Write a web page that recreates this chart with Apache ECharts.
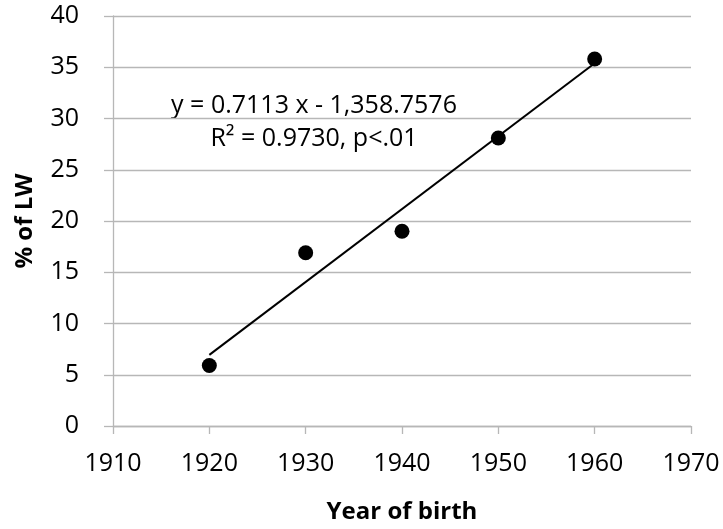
<!DOCTYPE html>
<html>
<head>
<meta charset="utf-8">
<script src="https://cdn.jsdelivr.net/npm/echarts@6/dist/echarts.min.js"></script>
<style>
    html, body {margin: 0; padding: 0; background: #fff;}
    #main {width: 723px; height: 529px;}
</style>
</head>
<body>
<div id="main"></div>
<script>
//散点数据
var years = [1920, 1930, 1940, 1950, 1960];
var lwValues = [5.9, 16.9, 19.0, 28.1, 35.8];
//趋势线两端
var trendYears = [1920, 1960];
var trendValues = [6.94, 35.39];
var eqLines = ['y = 0.7113 x - 1,358.7576', 'R\u00b2 = 0.9730, p<.01'];

var font = '"Open Sans", sans-serif';
var gray = '#b7b7b7';

var myChart = echarts.init(document.getElementById('main'));
myChart.setOption({
    animation: false,
    grid: {left: 113, right: 32, top: 16, bottom: 102},
    xAxis: {
        type: 'value',
        min: 1910,
        max: 1970,
        interval: 10,
        name: 'Year of birth',
        nameLocation: 'middle',
        nameGap: 74,
        nameTextStyle: {fontFamily: font, fontSize: 24, fontWeight: 'bold', color: '#000'},
        axisLine: {lineStyle: {color: gray, width: 1.3}},
        axisTick: {show: true, length: 8, lineStyle: {color: gray, width: 1.3}},
        axisLabel: {
            fontFamily: font, fontSize: 25, color: '#000', margin: 25,
            formatter: function (v) { return String(v); }
        },
        splitLine: {show: false}
    },
    yAxis: {
        type: 'value',
        min: 0,
        max: 40,
        interval: 5,
        name: '% of LW',
        nameLocation: 'middle',
        nameRotate: 90,
        nameGap: 76,
        nameTextStyle: {fontFamily: font, fontSize: 24, fontWeight: 'bold', color: '#000'},
        axisLine: {show: true, lineStyle: {color: gray, width: 1.3}},
        axisTick: {show: true, length: 9, lineStyle: {color: gray, width: 1.3}},
        axisLabel: {fontFamily: font, fontSize: 25, color: '#000', margin: 34},
        splitLine: {lineStyle: {color: gray, width: 1.3}}
    },
    series: [{
        type: 'line',
        data: trendYears.map(function (y, i) { return [y, trendValues[i]]; }),
        showSymbol: false,
        lineStyle: {color: '#000', width: 2},
        z: 2
    }, {
        type: 'scatter',
        data: years.map(function (y, i) { return [y, lwValues[i]]; }),
        symbol: 'circle',
        symbolSize: 15,
        itemStyle: {color: '#000', opacity: 1},
        z: 3
    }],
    graphic: [{
        type: 'text',
        x: 314,
        y: 106,
        style: {text: eqLines[0], fontFamily: font, fontSize: 25, fill: '#000', align: 'center', verticalAlign: 'middle'}
    }, {
        type: 'text',
        x: 314,
        y: 139,
        style: {text: eqLines[1], fontFamily: font, fontSize: 25, fill: '#000', align: 'center', verticalAlign: 'middle'}
    }]
});
</script>
</body>
</html>
